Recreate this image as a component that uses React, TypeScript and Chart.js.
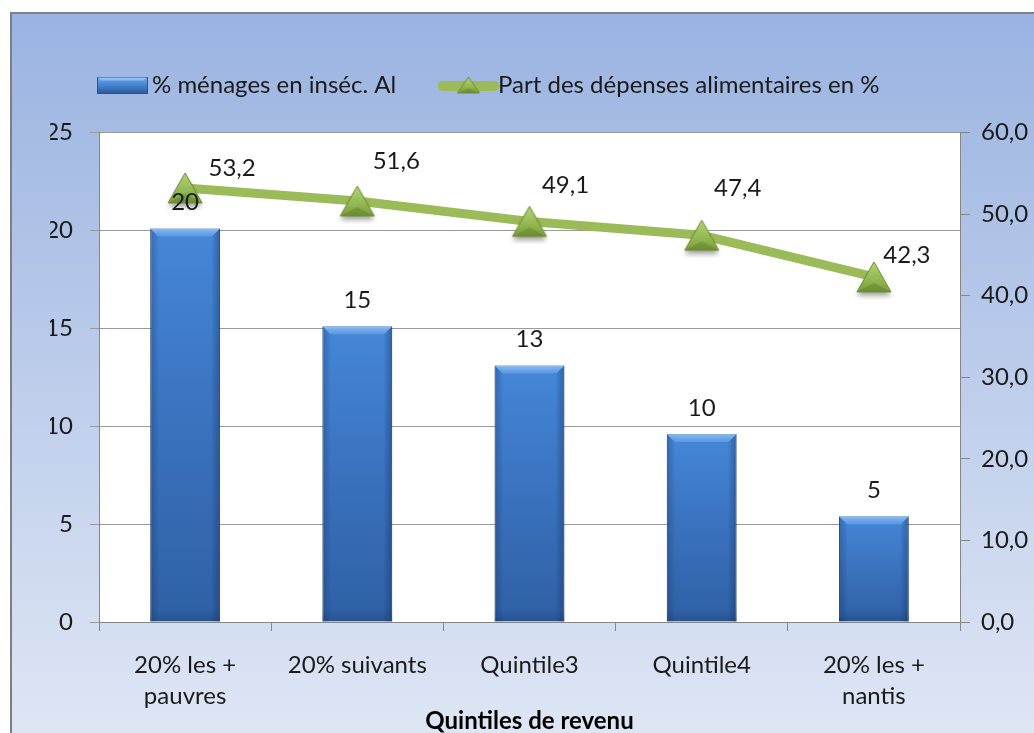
import React, { useEffect, useRef } from 'react';
import { Chart, registerables } from 'chart.js';

Chart.register(...registerables);

// ---------- data ----------
const categories: (string | string[])[] = [
  ['20% les +', 'pauvres'],
  '20% suivants',
  'Quintile3',
  'Quintile4',
  ['20% les +', 'nantis'],
];
const insecurityPct = [20.1, 15.1, 13.1, 9.6, 5.4];
const foodSharePct = [53.2, 51.6, 49.1, 47.4, 42.3];
const seriesLabels = ['% ménages en inséc. Al', 'Part des dépenses alimentaires en %'];
const xAxisTitle = 'Quintiles de revenu';
const leftTicks = { min: 0, max: 25, step: 5 };
const rightTicks = { min: 0, max: 60, step: 10 };

// ---------- style ----------
const FONT = 'Lato';
const FS = 24;
const TEXT = '#1a1a1a';
const lineLabelNudge: [number, number][] = [
  [47, -20],
  [39, -40],
  [36, -36],
  [36, -47],
  [33, -22],
];

const fmtComma = (v: number) => v.toFixed(1).replace('.', ',');

function makeCanvas(w: number, h: number) {
  const c = document.createElement('canvas');
  c.width = w;
  c.height = h;
  return c;
}

function triangleMarker(tw: number, th: number, size: number, withShadow: boolean) {
  const c = makeCanvas(size, size);
  const g = c.getContext('2d')!;
  const cx = size / 2;
  const cy = size / 2;
  const top = cy - th / 2;
  const bot = cy + th / 2;
  const path = () => {
    g.beginPath();
    g.moveTo(cx, top);
    g.lineTo(cx + tw / 2, bot);
    g.lineTo(cx - tw / 2, bot);
    g.closePath();
  };
  if (withShadow) {
    g.save();
    g.shadowColor = 'rgba(0,0,0,0.35)';
    g.shadowBlur = 5;
    g.shadowOffsetY = 4;
    path();
    g.fillStyle = '#8fb04c';
    g.fill();
    g.restore();
  }
  const gr = g.createLinearGradient(0, top, 0, bot);
  gr.addColorStop(0, '#b4d477');
  gr.addColorStop(0.6, '#93b751');
  gr.addColorStop(1, '#7c9d3b');
  path();
  g.fillStyle = gr;
  g.fill();
  // lower facet
  g.beginPath();
  g.moveTo(cx - tw / 2, bot);
  g.lineTo(cx + tw / 2, bot);
  g.lineTo(cx, bot - th * 0.3);
  g.closePath();
  g.fillStyle = 'rgba(70,100,25,0.28)';
  g.fill();
  path();
  g.strokeStyle = '#6e8b35';
  g.lineWidth = 1;
  g.stroke();
  return c;
}

function barLegendIcon() {
  const w = 51;
  const h = 17;
  const c = makeCanvas(w, h);
  const g = c.getContext('2d')!;
  const gr = g.createLinearGradient(0, 0, 0, h);
  gr.addColorStop(0, '#6aa8ee');
  gr.addColorStop(0.45, '#4a88d6');
  gr.addColorStop(1, '#2c5b9c');
  g.fillStyle = gr;
  g.fillRect(0, 0, w, h);
  g.beginPath();
  g.moveTo(0, 0);
  g.lineTo(w, 0);
  g.lineTo(w - 4, 4);
  g.lineTo(4, 4);
  g.closePath();
  g.fillStyle = 'rgba(170,210,250,0.6)';
  g.fill();
  g.strokeStyle = '#2a5595';
  g.lineWidth = 1;
  g.strokeRect(0.5, 0.5, w - 1, h - 1);
  return c;
}

function lineLegendIcon() {
  const w = 62;
  const h = 26;
  const c = makeCanvas(w, h);
  const g = c.getContext('2d')!;
  g.strokeStyle = '#9bbb59';
  g.lineWidth = 10;
  g.lineCap = 'round';
  g.beginPath();
  g.moveTo(5, h / 2 + 1);
  g.lineTo(w - 5, h / 2 + 1);
  g.stroke();
  const tri = triangleMarker(22, 16, 26, false);
  g.drawImage(tri, w / 2 - 13, 0);
  return c;
}

export default function App() {
  const ref = useRef<HTMLCanvasElement | null>(null);

  useEffect(() => {
    if (!ref.current) return;

    const m = document.createElement('canvas').getContext('2d')!;
    m.font = `${FS}px ${FONT}`;
    const textW1 = m.measureText(seriesLabels[0]).width;
    const gapP = Math.max(14, 299 - textW1);
    const padLeft = 105 - gapP;
    const padTop = 73 - gapP;
    const leftAxisW = 99 - padLeft;

    const marker = triangleMarker(34, 30, 46, true);
    const icons = [barLegendIcon(), lineLegendIcon()];

    const backgroundPlugin = {
      id: 'bgFrame',
      beforeDraw(chart: any) {
        const { ctx, chartArea, width, height } = chart;
        ctx.save();
        ctx.fillStyle = '#ffffff';
        ctx.fillRect(0, 0, width, height);
        const grad = ctx.createLinearGradient(0, 13, 0, height);
        grad.addColorStop(0, '#9ab3e1');
        grad.addColorStop(1, '#dee6f4');
        ctx.fillStyle = grad;
        ctx.fillRect(10, 12, width, height);
        ctx.strokeStyle = '#7f7f7f';
        ctx.lineWidth = 2;
        ctx.strokeRect(11, 13, width + 20, height + 20);
        ctx.fillStyle = '#ffffff';
        ctx.fillRect(chartArea.left, chartArea.top, chartArea.right - chartArea.left, chartArea.bottom - chartArea.top);
        ctx.restore();
      },
    };

    const bevelPlugin = {
      id: 'barBevel',
      afterDatasetDraw(chart: any, args: any) {
        if (args.index !== 0) return;
        const ctx = chart.ctx;
        const meta = chart.getDatasetMeta(0);
        ctx.save();
        meta.data.forEach((el: any) => {
          const { x, y, base, width } = el.getProps(['x', 'y', 'base', 'width'], true);
          const l = x - width / 2;
          const r = x + width / 2;
          const b = 8;
          // top bevel
          ctx.beginPath();
          ctx.moveTo(l, y);
          ctx.lineTo(r, y);
          ctx.lineTo(r - b, y + b);
          ctx.lineTo(l + b, y + b);
          ctx.closePath();
          const tg = ctx.createLinearGradient(0, y, 0, y + b);
          tg.addColorStop(0, 'rgba(150,198,248,0.85)');
          tg.addColorStop(1, 'rgba(110,165,232,0.55)');
          ctx.fillStyle = tg;
          ctx.fill();
          // right side
          ctx.beginPath();
          ctx.moveTo(r, y);
          ctx.lineTo(r, base);
          ctx.lineTo(r - b, base);
          ctx.lineTo(r - b, y + b);
          ctx.closePath();
          const rg = ctx.createLinearGradient(r - b, 0, r, 0);
          rg.addColorStop(0, 'rgba(15,40,85,0.05)');
          rg.addColorStop(1, 'rgba(15,40,85,0.38)');
          ctx.fillStyle = rg;
          ctx.fill();
          // left side
          ctx.beginPath();
          ctx.moveTo(l, y);
          ctx.lineTo(l + b, y + b);
          ctx.lineTo(l + b, base);
          ctx.lineTo(l, base);
          ctx.closePath();
          const lg = ctx.createLinearGradient(l, 0, l + b, 0);
          lg.addColorStop(0, 'rgba(15,40,85,0.3)');
          lg.addColorStop(1, 'rgba(15,40,85,0.03)');
          ctx.fillStyle = lg;
          ctx.fill();
          // bottom shade
          const bg = ctx.createLinearGradient(0, base - 12, 0, base);
          bg.addColorStop(0, 'rgba(15,40,85,0)');
          bg.addColorStop(1, 'rgba(15,40,85,0.25)');
          ctx.fillStyle = bg;
          ctx.fillRect(l, base - 12, width, 12);
        });
        ctx.restore();
      },
    };

    const labelsPlugin = {
      id: 'valueLabels',
      afterDatasetsDraw(chart: any) {
        const ctx = chart.ctx;
        ctx.save();
        ctx.font = `${FS}px ${FONT}`;
        ctx.fillStyle = TEXT;
        ctx.textAlign = 'center';
        ctx.textBaseline = 'middle';
        const barVals = chart.data.datasets[0].data as number[];
        chart.getDatasetMeta(0).data.forEach((el: any, i: number) => {
          ctx.fillText(String(Math.round(barVals[i])), el.x, el.y - 26);
        });
        const lineVals = chart.data.datasets[1].data as number[];
        chart.getDatasetMeta(1).data.forEach((el: any, i: number) => {
          const [dx, dy] = lineLabelNudge[i];
          ctx.fillText(fmtComma(lineVals[i]), el.x + dx, el.y + dy);
        });
        ctx.restore();
      },
    };

    const tickFont = { family: FONT, size: FS };

    const chart = new Chart(ref.current, {
      type: 'bar',
      data: {
        labels: categories,
        datasets: [
          {
            type: 'bar',
            label: seriesLabels[0],
            data: insecurityPct,
            yAxisID: 'y',
            order: 1,
            barPercentage: 0.405,
            categoryPercentage: 1,
            borderColor: 'rgba(30,62,112,0.85)',
            borderWidth: 1,
            backgroundColor: (c: any) => {
              const chart = c.chart;
              const ys = chart.scales?.y;
              if (!ys || c.raw === undefined) return '#3a72be';
              const top = ys.getPixelForValue(c.raw);
              const bot = ys.getPixelForValue(0);
              if (!isFinite(top) || !isFinite(bot) || top === bot) return '#3a72be';
              const g = chart.ctx.createLinearGradient(0, top, 0, bot);
              g.addColorStop(0, '#4587d8');
              g.addColorStop(0.5, '#3a72be');
              g.addColorStop(1, '#2f60a4');
              return g;
            },
          } as any,
          {
            type: 'line',
            label: seriesLabels[1],
            data: foodSharePct,
            yAxisID: 'y1',
            order: 0,
            borderColor: '#9bbb59',
            borderWidth: 9,
            tension: 0,
            pointStyle: marker,
            pointRadius: 19,
            pointHoverRadius: 19,
            backgroundColor: '#9bbb59',
          } as any,
        ],
      },
      options: {
        responsive: false,
        maintainAspectRatio: false,
        animation: false,
        devicePixelRatio: 1,
        events: [],
        layout: { padding: { left: padLeft, top: padTop, right: 0, bottom: 0 } },
        plugins: {
          tooltip: { enabled: false },
          title: { display: false },
          subtitle: {
            display: true,
            text: '',
            position: 'top',
            weight: 500,
            padding: 0,
            font: { size: 10, lineHeight: '25.5px' },
          } as any,
          legend: {
            display: true,
            position: 'top',
            align: 'start',
            labels: {
              usePointStyle: true,
              pointStyleWidth: 35,
              padding: gapP,
              color: TEXT,
              font: { family: FONT, size: FS },
              generateLabels: (ch: any) =>
                ch.data.datasets.map((ds: any, i: number) => ({
                  text: ds.label,
                  pointStyle: icons[i],
                  datasetIndex: i,
                  hidden: false,
                  fillStyle: 'rgba(0,0,0,0)',
                  strokeStyle: 'rgba(0,0,0,0)',
                  lineWidth: 0,
                  fontColor: TEXT,
                })),
            },
          } as any,
        },
        scales: {
          x: {
            type: 'category',
            offset: true,
            grid: {
              display: true,
              offset: true,
              drawOnChartArea: false,
              drawTicks: true,
              tickLength: 9,
              color: '#868686',
            },
            border: { display: true, color: '#868686' },
            ticks: {
              font: { ...tickFont, lineHeight: 1.29 },
              color: TEXT,
              padding: 19,
              maxRotation: 0,
              autoSkip: false,
            },
            title: {
              display: true,
              text: xAxisTitle,
              color: '#000000',
              font: { family: FONT, size: FS, weight: 'bold', lineHeight: 1 },
              padding: { top: 0, bottom: 0 },
            },
            afterFit: (s: any) => {
              s.height = 111;
            },
          } as any,
          y: {
            type: 'linear',
            position: 'left',
            min: leftTicks.min,
            max: leftTicks.max,
            ticks: { stepSize: leftTicks.step, font: tickFont, color: TEXT, padding: 17 },
            grid: { color: '#9a9a9a', tickLength: 9, drawTicks: true },
            border: { display: true, color: '#868686' },
            afterFit: (s: any) => {
              s.width = leftAxisW;
            },
          } as any,
          y1: {
            type: 'linear',
            position: 'right',
            min: rightTicks.min,
            max: rightTicks.max,
            ticks: {
              stepSize: rightTicks.step,
              font: tickFont,
              color: TEXT,
              padding: 11,
              callback: (v: any) => fmtComma(Number(v)),
            },
            grid: { drawOnChartArea: false, tickLength: 10, color: '#868686' },
            border: { display: true, color: '#868686' },
            afterFit: (s: any) => {
              s.width = 74;
            },
          } as any,
        },
      },
      plugins: [backgroundPlugin, bevelPlugin, labelsPlugin],
    } as any);

    return () => chart.destroy();
  }, []);

  return (
    <div style={{ position: 'fixed', left: 0, top: 0, width: 1034, height: 733, background: '#fff', overflow: 'hidden' }}>
      <canvas ref={ref} width={1034} height={733} style={{ display: 'block', width: 1034, height: 733 }} />
    </div>
  );
}
